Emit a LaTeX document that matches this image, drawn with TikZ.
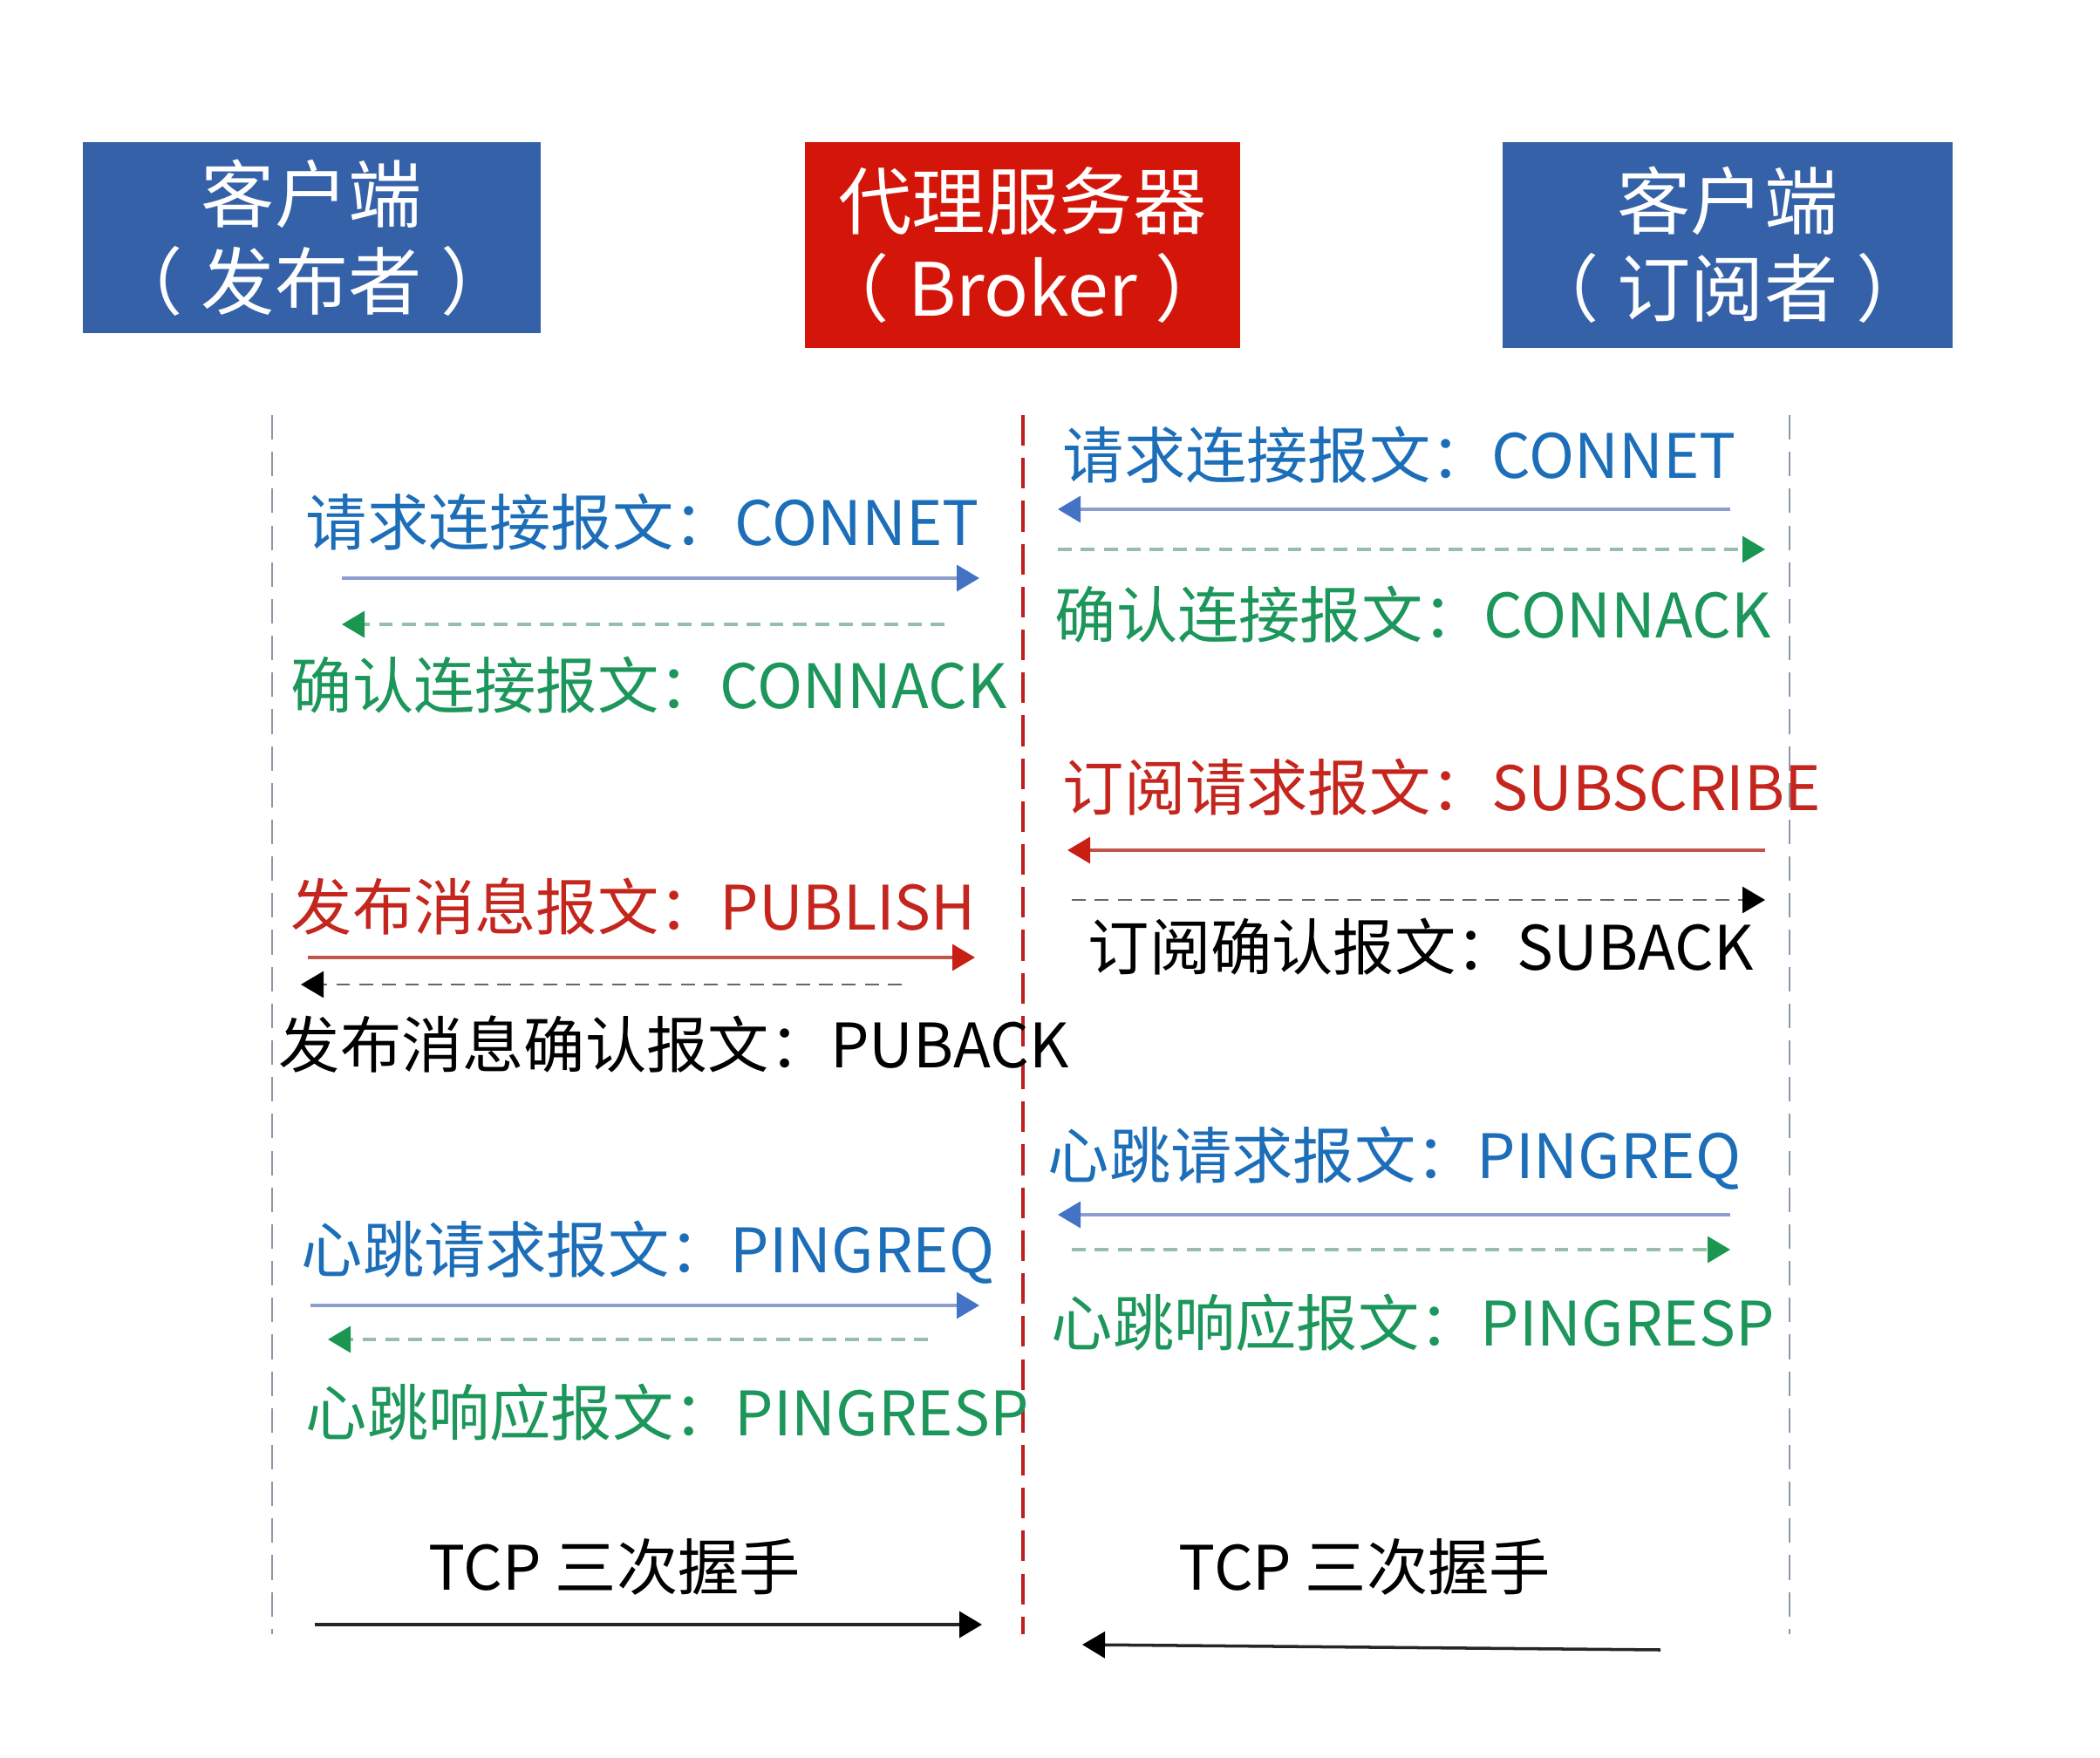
\documentclass[tikz,border=0pt]{standalone}
\usepackage{fontspec}
\setmainfont{Noto Sans CJK SC}
\usetikzlibrary{arrows.meta}

\definecolor{boxblue}{RGB}{52,97,167}
\definecolor{boxred}{RGB}{212,22,10}
\definecolor{txtblue}{RGB}{28,110,184}
\definecolor{txtgreen}{RGB}{28,150,90}
\definecolor{txtred}{RGB}{196,38,30}
\definecolor{lnblue}{RGB}{140,158,205}
\definecolor{tipblue}{RGB}{68,114,196}
\definecolor{lngreen}{RGB}{150,190,170}
\definecolor{tipgreen}{RGB}{26,150,80}
\definecolor{lnred}{RGB}{192,85,75}
\definecolor{tipred}{RGB}{200,30,20}
\definecolor{lifegray}{RGB}{140,150,172}
\definecolor{lifered}{RGB}{190,30,30}

\tikzset{
  actor/.style={fill=#1, text=white, inner sep=0pt, align=center,
    font=\fontsize{24}{28.5}\selectfont},
  msg/.style={anchor=west, inner sep=0pt, text=#1,
    font=\fontsize{20}{24}\selectfont},
  life/.style={line width=0.6pt, draw=lifegray, dash pattern=on 8pt off 4pt},
  brokerlife/.style={line width=1.1pt, draw=lifered, dash pattern=on 10pt off 4pt},
  bluearr/.style={line width=1pt, draw=lnblue, -{Triangle[length=0.26cm, width=0.3cm, color=tipblue]}},
  greenarr/.style={line width=1pt, draw=lngreen, dash pattern=on 4.5pt off 3pt,
    -{Triangle[length=0.26cm, width=0.3cm, color=tipgreen]}},
  redarr/.style={line width=1pt, draw=lnred, -{Triangle[length=0.26cm, width=0.3cm, color=tipred]}},
  blackarr/.style={line width=1pt, draw=black!85, -{Triangle[length=0.26cm, width=0.3cm, color=black]}},
  blackdash/.style={line width=0.8pt, draw=black!60, dash pattern=on 4.5pt off 3pt,
    -{Triangle[length=0.26cm, width=0.3cm, color=black]}}
}

\begin{document}
\begin{tikzpicture}
	\useasboundingbox (0,0) rectangle (24.08,-20.16);

	% Actors
	\node[actor=boxblue, minimum width=5.25cm, minimum height=2.19cm] (pub) at (3.575,-2.725) {客户端\\（\hspace{0.25em}发布者\hspace{0.25em}）};
	\node[actor=boxred, minimum width=4.99cm, minimum height=2.36cm] (broker) at (11.725,-2.81) {代理服务器\\（\hspace{0.25em}Broker\hspace{0.25em}）};
	\node[actor=boxblue, minimum width=5.16cm, minimum height=2.36cm] (sub) at (19.81,-2.81) {客户端\\（\hspace{0.25em}订阅者\hspace{0.25em}）};

	% Lifelines
	\coordinate (pubtop) at (3.12,-4.76);
	\coordinate (pubbot) at (3.12,-18.74);
	\coordinate (brotop) at (11.73,-4.76);
	\coordinate (brobot) at (11.73,-18.74);
	\coordinate (subtop) at (20.52,-4.76);
	\coordinate (subbot) at (20.52,-18.74);
	\draw[life] (pubtop) -- (pubbot);
	\draw[brokerlife] (brotop) -- (brobot);
	\draw[life] (subtop) -- (subbot);

	% Publisher side: labels
	\node[msg=txtblue] (lconn) at (3.50,-5.99) {请求连接报文：CONNET};
	\node[msg=txtgreen] (lconnack) at (3.33,-7.86) {确认连接报文：CONNACK};
	\node[msg=txtred] (lpublish) at (3.33,-10.40) {发布消息报文：PUBLISH};
	\node[msg=black] (lpuback) at (3.19,-11.98) {发布消息确认报文：PUBACK};
	\node[msg=txtblue] (lpingreq) at (3.45,-14.36) {心跳请求报文：PINGREQ};
	\node[msg=txtgreen] (lpingresp) at (3.50,-16.20) {心跳响应报文：PINGRESP};
	\node[msg=black] (ltcp) at (4.91,-17.97) {TCP 三次握手};

	% Publisher side: arrows
	\coordinate (la1) at (3.92,-6.63);   \coordinate (lb1) at (11.23,-6.63);
	\coordinate (la2) at (10.83,-7.16);  \coordinate (lb2) at (3.92,-7.16);
	\coordinate (la3) at (3.53,-10.98);  \coordinate (lb3) at (11.18,-10.98);
	\coordinate (la4) at (10.34,-11.29); \coordinate (lb4) at (3.45,-11.29);
	\coordinate (la5) at (3.56,-14.97);  \coordinate (lb5) at (11.23,-14.97);
	\coordinate (la6) at (10.64,-15.36); \coordinate (lb6) at (3.76,-15.36);
	\coordinate (la7) at (3.61,-18.63);  \coordinate (lb7) at (11.26,-18.63);
	\draw[bluearr] (la1) -- (lb1);
	\draw[greenarr] (la2) -- (lb2);
	\draw[redarr] (la3) -- (lb3);
	\draw[blackdash] (la4) -- (lb4);
	\draw[bluearr] (la5) -- (lb5);
	\draw[greenarr] (la6) -- (lb6);
	\draw[blackarr] (la7) -- (lb7);

	% Subscriber side: labels
	\node[msg=txtblue] (rconn) at (12.18,-5.22) {请求连接报文：CONNET};
	\node[msg=txtgreen] (rconnack) at (12.09,-7.05) {确认连接报文：CONNACK};
	\node[msg=txtred] (rsubscribe) at (12.18,-9.03) {订阅请求报文：SUBSCRIBE};
	\node[msg=black] (rsuback) at (12.47,-10.86) {订阅确认报文：SUBACK};
	\node[msg=txtblue] (rpingreq) at (12.01,-13.28) {心跳请求报文：PINGREQ};
	\node[msg=txtgreen] (rpingresp) at (12.05,-15.17) {心跳响应报文：PINGRESP};
	\node[msg=black] (rtcp) at (13.51,-17.97) {TCP 三次握手};

	% Subscriber side: arrows
	\coordinate (ra1) at (19.84,-5.84);  \coordinate (rb1) at (12.13,-5.84);
	\coordinate (ra2) at (12.13,-6.30);  \coordinate (rb2) at (20.24,-6.30);
	\coordinate (ra3) at (20.24,-9.75);  \coordinate (rb3) at (12.24,-9.75);
	\coordinate (ra4) at (12.29,-10.32); \coordinate (rb4) at (20.24,-10.32);
	\coordinate (ra5) at (19.84,-13.93); \coordinate (rb5) at (12.13,-13.93);
	\coordinate (ra6) at (12.29,-14.33); \coordinate (rb6) at (19.84,-14.33);
	\coordinate (ra7) at (19.04,-18.92); \coordinate (rb7) at (12.41,-18.86);
	\draw[bluearr] (ra1) -- (rb1);
	\draw[greenarr] (ra2) -- (rb2);
	\draw[redarr] (ra3) -- (rb3);
	\draw[blackdash] (ra4) -- (rb4);
	\draw[bluearr] (ra5) -- (rb5);
	\draw[greenarr] (ra6) -- (rb6);
	\draw[blackarr] (ra7) -- (rb7);
\end{tikzpicture}
\end{document}
